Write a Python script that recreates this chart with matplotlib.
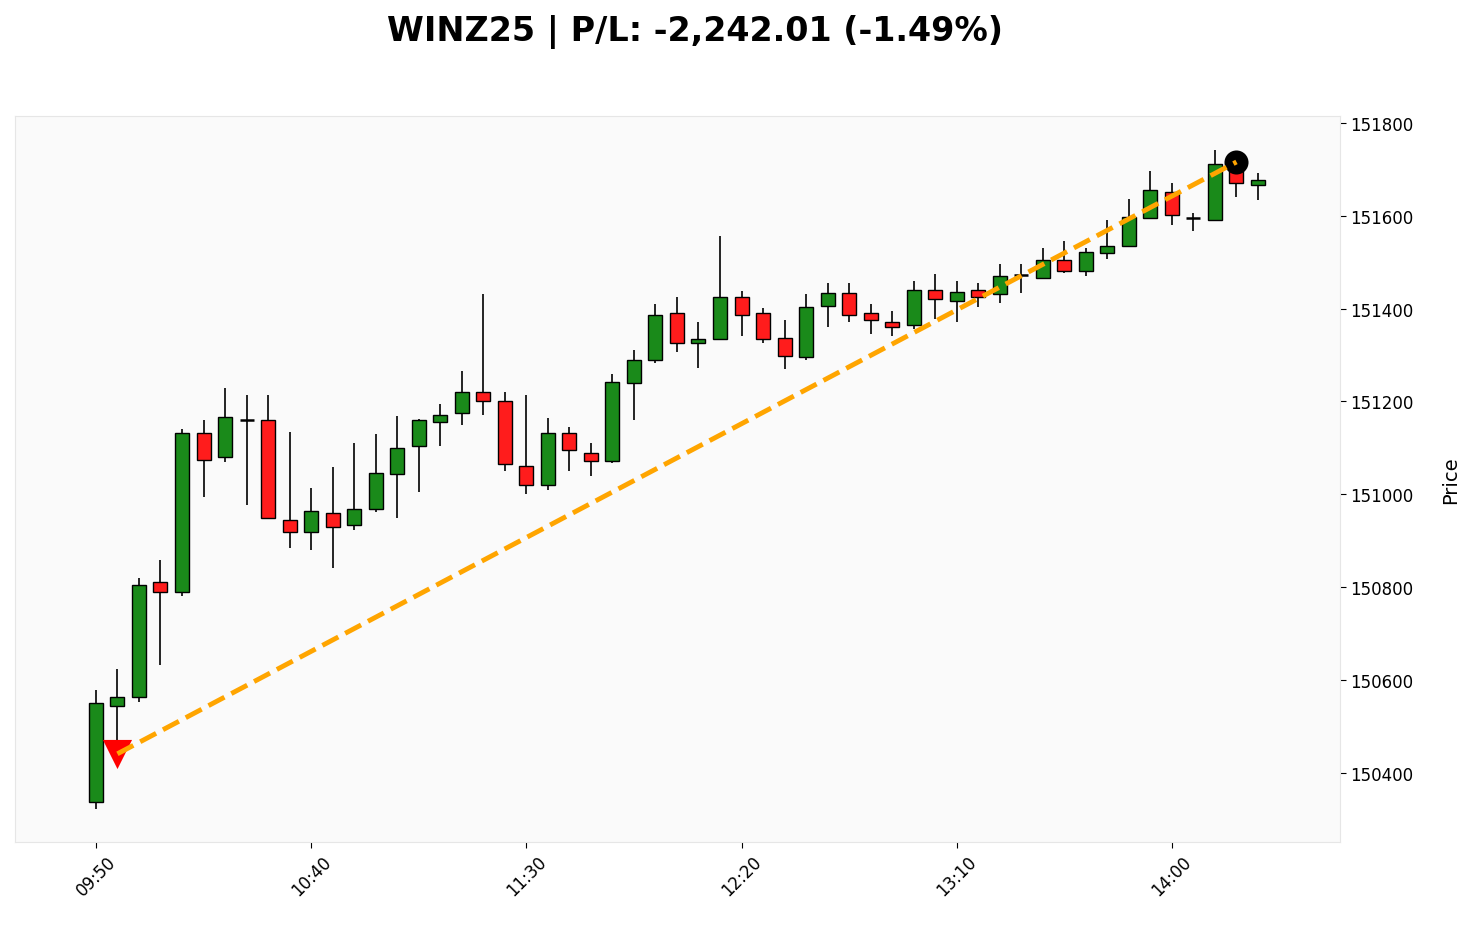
import matplotlib
matplotlib.use("Agg")
import matplotlib.pyplot as plt
import numpy as np

times = ["09:50","09:55","10:00","10:05","10:10","10:15","10:20","10:25","10:30","10:35",
         "10:40","10:45","10:50","10:55","11:00","11:05","11:10","11:15","11:20","11:25",
         "11:30","11:35","11:40","11:45","11:50","11:55","12:00","12:05","12:10","12:15",
         "12:20","12:25","12:30","12:35","12:40","12:45","12:50","12:55","13:00","13:05",
         "13:10","13:15","13:20","13:25","13:30","13:35","13:40","13:45","13:50","13:55",
         "14:00","14:05","14:10","14:15","14:20"]

opens = [150338,150544,150564,150811,150790,151132,151081,151160,151160,150945,
         150919,150960,150934,150969,151044,151105,151156,151175,151221,151200,
         151060,151020,151132,151090,151071,151240,151290,151391,151326,151335,
         151426,151391,151336,151296,151405,151433,151391,151372,151365,151441,
         151417,151441,151432,151473,151466,151505,151481,151520,151535,151595,
         151652,151595,151592,151701,151666]
highs = [150579,150624,150820,150859,151141,151160,151229,151214,151214,151135,
         151014,151059,151111,151130,151168,151163,151194,151265,151432,151220,
         151214,151165,151145,151111,151259,151311,151410,151425,151371,151557,
         151437,151402,151376,151432,151455,151455,151410,151394,151459,151475,
         151459,151455,151496,151496,151531,151545,151531,151591,151636,151696,
         151671,151605,151742,151722,151692]
lows = [150322,150430,150553,150633,150780,150995,151070,150976,150947,150885,
        150881,150841,150924,150962,150950,151006,151105,151150,151170,151051,
        151000,151010,151051,151040,151067,151161,151282,151306,151272,151333,
        151342,151326,151270,151290,151361,151372,151346,151342,151356,151378,
        151372,151403,151412,151434,151466,151476,151471,151507,151535,151595,
        151581,151567,151592,151641,151634]
closes = [150551,150564,150805,150790,151132,151074,151167,151160,150949,150919,
          150964,150930,150969,151045,151100,151161,151170,151221,151200,151066,
          151020,151132,151096,151071,151241,151290,151387,151327,151335,151426,
          151386,151335,151297,151403,151433,151386,151376,151361,151441,151421,
          151436,151425,151471,151473,151505,151482,151521,151536,151597,151656,
          151602,151595,151712,151671,151678]

entry_idx, entry_price = 1, 150441
exit_idx, exit_price = 53, 151716
title_text = "WINZ25 | P/L: -2,242.01 (-1.49%)"
ytick_vals = [150400, 150600, 150800, 151000, 151200, 151400, 151600, 151800]

up_color = "#1a8a1a"
down_color = "#ff1c1c"

fig = plt.figure(figsize=(14.77, 9.29), dpi=100)
ax = fig.add_axes([15/1477, (929-843)/929, (1340-15)/1477, (843-117)/929])
ax.set_facecolor("#fafafa")
for s in ax.spines.values():
    s.set_color("#e6e6e6")

x = np.arange(len(times))
o = np.array(opens); c = np.array(closes); h = np.array(highs); l = np.array(lows)
colors = [up_color if cc > oo else (down_color if cc < oo else "black") for oo, cc in zip(o, c)]
lws = [1.0 if cc != oo else 1.8 for oo, cc in zip(o, c)]

ax.vlines(x, l, h, color="black", linewidth=1.2, zorder=2)
bottoms = np.minimum(o, c)
heights = np.abs(c - o)
ax.bar(x, heights, bottom=bottoms, width=0.65, color=colors, edgecolor="black",
       linewidth=lws, zorder=3)

ax.scatter([entry_idx], [entry_price], marker="v", s=440, color="red", zorder=5, linewidths=0)
ax.scatter([exit_idx], [exit_price], marker="o", s=300, color="black", zorder=5, linewidths=0)
ax.plot([entry_idx, exit_idx], [entry_price, exit_price], linestyle="--", color="orange",
        linewidth=3.5, zorder=6)

ax.set_xlim(-3.76, 57.81)
ax.set_ylim(150251, 151815)
ax.yaxis.tick_right()
ax.yaxis.set_label_position("right")
ax.set_yticks(ytick_vals)
ax.set_yticklabels([str(v) for v in ytick_vals], fontsize=12)
tick_idx = list(range(0, len(times), 10))
ax.set_xticks(tick_idx)
ax.set_xticklabels([times[i] for i in tick_idx], rotation=45, fontsize=12)
ax.set_ylabel("Price", fontsize=14, labelpad=20)
ax.tick_params(axis="both", length=4, color="black")

fig.text(695/1477, 1 - 15/929, title_text, fontsize=24, fontweight="bold",
         ha="center", va="top")

fig.savefig("out.png", dpi=100)
